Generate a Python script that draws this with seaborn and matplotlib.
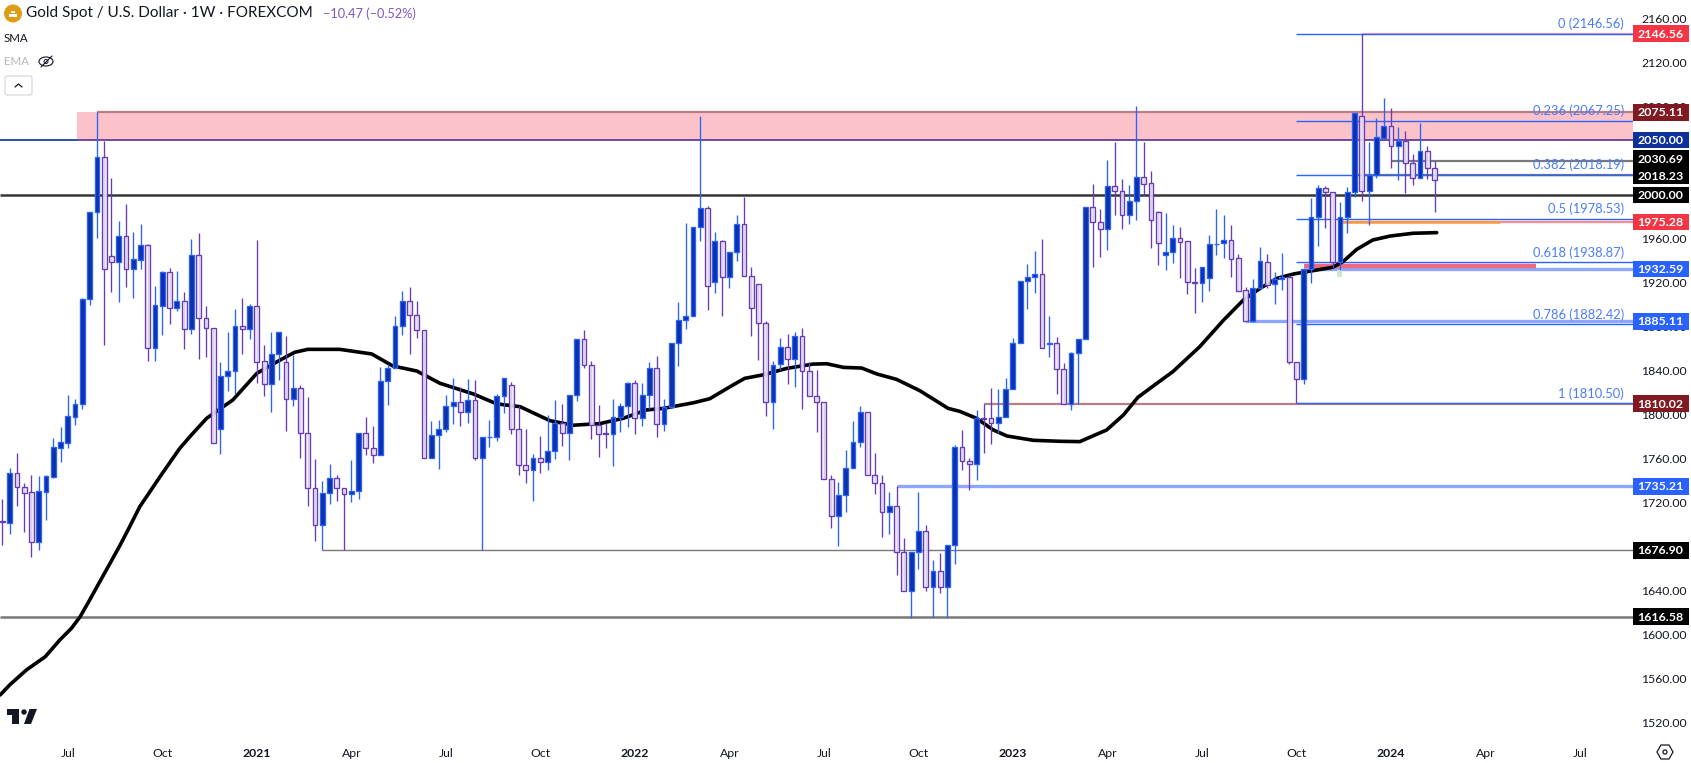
import matplotlib
matplotlib.use('Agg')
import matplotlib.pyplot as plt
from matplotlib.patches import Circle, Ellipse, FancyBboxPatch, Polygon, Rectangle
from matplotlib.transforms import blended_transform_factory
import numpy as np
import pandas as pd
import seaborn as sns

# weekly candles
opens = [1703.4, 1702.0, 1746.9, 1734.8, 1729.6, 1684.8, 1730.2, 1743.9, 1770.2, 1774.8,
         1798.4, 1809.6, 1905.1, 1984.2, 2034.2, 1944.2, 1939.3, 1962.4, 1933.0, 1941.2,
         1954.2, 1861.2, 1899.3, 1929.6, 1897.5, 1903.3, 1878.4, 1945.1, 1888.4, 1879.3,
         1786.9, 1835.1, 1839.6, 1880.6, 1878.4, 1898.7, 1848.7, 1827.8, 1855.1, 1847.8,
         1814.2, 1824.2, 1783.3, 1733.3, 1699.6, 1728.7, 1742.4, 1733.3, 1727.8, 1730.5,
         1783.3, 1769.6, 1763.9, 1830.6, 1842.4, 1880.6, 1903.3, 1890.6, 1876.9, 1760.6,
         1781.5, 1786.9, 1807.8, 1811.5, 1802.4, 1813.3, 1761.2, 1779.8, 1780.2, 1816.9,
         1826.9, 1786.9, 1754.2, 1749.6, 1760.6, 1756.9, 1766.9, 1792.4, 1783.3, 1817.8,
         1868.7, 1845.1, 1791.2, 1783.3, 1782.4, 1797.8, 1807.8, 1828.7, 1796.9, 1817.8,
         1842.4, 1791.5, 1806.9, 1865.0, 1885.9, 1889.6, 1970.5, 1987.8, 1921.1, 1957.8,
         1925.0, 1947.8, 1973.2, 1925.9, 1919.3, 1883.2, 1811.4, 1845.9, 1861.4, 1850.5,
         1871.4, 1839.6, 1816.9, 1811.4, 1741.4, 1707.8, 1726.8, 1751.4, 1775.0, 1802.3,
         1745.0, 1737.8, 1711.4, 1716.8, 1675.0, 1639.6, 1675.0, 1694.1, 1643.8, 1657.8,
         1643.8, 1681.4, 1770.5, 1758.0, 1755.0, 1797.0, 1796.9, 1792.3, 1797.8, 1823.2,
         1865.0, 1921.5, 1925.1, 1927.8, 1864.8, 1865.0, 1841.4, 1809.9, 1856.0, 1869.3,
         1988.7, 1975.1, 1968.7, 2007.8, 2003.3, 1982.1, 1994.2, 2016.0, 2010.5, 1984.2,
         1945.7, 1947.8, 1960.6, 1957.8, 1920.5, 1919.6, 1924.8, 1955.1, 1956.0, 1958.7,
         1942.3, 1913.2, 1885.6, 1915.0, 1939.3, 1918.7, 1923.2, 1925.0, 1847.8, 1832.3,
         1932.3, 1980.2, 2006.0, 2003.0, 1938.7, 1980.2, 2002.3, 2071.4, 2003.8, 2018.4,
         2052.1, 2062.4, 2044.8, 2049.0, 2028.7, 2015.1, 2039.6, 2024.2]
highs = [1723.3, 1751.7, 1765.1, 1737.8, 1745.4, 1744.5, 1745.4, 1778.7, 1788.7, 1818.1,
         1814.5, 1906.0, 1984.2, 2075.1, 2049.3, 2015.4, 1976.3, 1991.8, 1966.3, 1973.6,
         1955.4, 1917.2, 1930.9, 1933.6, 1930.9, 1911.8, 1959.9, 1965.1, 1899.0, 1879.3,
         1848.1, 1875.4, 1896.3, 1906.3, 1900.9, 1959.0, 1863.3, 1875.1, 1875.1, 1871.8,
         1854.5, 1827.2, 1816.3, 1760.0, 1739.9, 1755.4, 1745.4, 1733.3, 1759.0, 1783.3,
         1798.1, 1790.0, 1843.6, 1846.3, 1890.0, 1912.7, 1916.3, 1903.6, 1876.9, 1794.5,
         1795.4, 1818.1, 1833.6, 1825.1, 1832.7, 1831.8, 1779.6, 1795.4, 1819.0, 1833.3,
         1829.6, 1808.4, 1787.2, 1764.2, 1780.9, 1800.0, 1813.6, 1810.0, 1817.8, 1868.7,
         1877.2, 1849.0, 1809.0, 1792.4, 1814.5, 1810.8, 1830.0, 1831.8, 1829.0, 1848.1,
         1853.6, 1814.5, 1865.0, 1902.6, 1974.1, 1970.5, 2071.7, 1989.6, 1965.9, 1959.0,
         1947.8, 1981.7, 1997.8, 1934.1, 1919.3, 1885.0, 1848.7, 1869.9, 1873.5, 1875.0,
         1878.7, 1848.0, 1840.8, 1811.4, 1745.0, 1738.7, 1768.0, 1794.4, 1808.0, 1802.3,
         1765.0, 1745.0, 1729.9, 1735.2, 1688.0, 1675.0, 1729.6, 1699.6, 1668.0, 1674.1,
         1681.4, 1772.6, 1786.3, 1760.5, 1804.4, 1809.9, 1824.1, 1823.2, 1833.2, 1869.6,
         1921.5, 1937.2, 1949.0, 1959.9, 1890.0, 1870.8, 1846.9, 1856.9, 1869.3, 1988.7,
         2009.9, 1986.9, 2031.8, 2048.1, 2014.5, 2009.0, 2080.9, 2048.1, 2021.8, 1985.4,
         1983.6, 1972.7, 1970.9, 1957.8, 1933.6, 1934.2, 1963.5, 1987.2, 1981.7, 1972.6,
         1946.3, 1915.9, 1923.5, 1952.3, 1946.3, 1930.2, 1946.9, 1927.2, 1848.4, 1932.3,
         1997.2, 2009.0, 2008.0, 2003.0, 1993.5, 2006.9, 2074.8, 2146.56, 2048.4, 2069.6,
         2087.8, 2079.0, 2061.8, 2058.1, 2037.2, 2065.4, 2044.5, 2031.2]
lows = [1681.7, 1691.7, 1717.2, 1693.6, 1671.1, 1677.2, 1704.5, 1743.0, 1757.5, 1770.2,
        1790.8, 1805.7, 1900.0, 1960.9, 1863.6, 1912.1, 1902.7, 1916.3, 1906.3, 1932.7,
        1849.0, 1849.0, 1872.7, 1882.7, 1894.5, 1859.9, 1873.6, 1851.2, 1852.7, 1774.2,
        1764.8, 1822.1, 1819.3, 1855.7, 1869.3, 1828.7, 1817.5, 1803.0, 1831.8, 1785.7,
        1808.4, 1761.2, 1717.5, 1685.0, 1676.9, 1719.0, 1722.0, 1676.9, 1721.0, 1723.6,
        1763.9, 1756.6, 1763.9, 1809.0, 1842.4, 1872.7, 1855.7, 1869.9, 1760.6, 1760.6,
        1750.9, 1784.8, 1791.8, 1790.2, 1792.7, 1759.0, 1677.5, 1771.2, 1776.6, 1802.0,
        1782.7, 1745.4, 1738.4, 1721.7, 1746.9, 1750.0, 1760.0, 1771.7, 1759.0, 1812.7,
        1843.0, 1778.1, 1762.1, 1770.2, 1753.9, 1784.5, 1789.3, 1782.7, 1790.2, 1805.7,
        1780.2, 1785.7, 1806.9, 1844.7, 1878.4, 1889.6, 1958.4, 1895.3, 1911.1, 1890.2,
        1915.6, 1939.9, 1925.9, 1872.0, 1849.9, 1799.3, 1787.5, 1840.8, 1828.1, 1825.6,
        1805.6, 1816.9, 1784.7, 1741.4, 1697.5, 1680.8, 1712.0, 1751.4, 1771.1, 1745.0,
        1728.0, 1689.3, 1691.7, 1654.4, 1639.6, 1615.0, 1660.2, 1640.2, 1616.6, 1638.4,
        1616.6, 1664.4, 1750.0, 1731.7, 1741.0, 1765.6, 1773.5, 1783.2, 1797.8, 1823.2,
        1865.0, 1896.3, 1911.2, 1860.6, 1853.0, 1819.0, 1809.9, 1804.7, 1809.9, 1869.3,
        1934.8, 1943.9, 1950.2, 1982.1, 1969.0, 1973.6, 1977.2, 1999.9, 1951.8, 1936.3,
        1931.8, 1938.1, 1924.5, 1910.0, 1892.7, 1902.7, 1912.9, 1945.4, 1942.6, 1925.7,
        1912.9, 1885.6, 1884.4, 1915.0, 1915.3, 1900.8, 1913.5, 1846.3, 1810.5, 1828.0,
        1920.0, 1953.5, 1969.9, 1933.2, 1931.7, 1965.7, 1998.4, 1994.5, 1972.6, 2015.7,
        2052.1, 2024.5, 2013.6, 2002.1, 2009.0, 2015.1, 2014.8, 1984.8]
closes = [1703.0, 1746.9, 1734.8, 1729.3, 1684.8, 1730.5, 1744.2, 1770.5, 1775.1, 1798.7,
          1809.6, 1905.1, 1984.2, 2034.2, 1932.4, 1939.3, 1962.4, 1933.0, 1941.5, 1954.2,
          1861.2, 1899.6, 1929.6, 1897.5, 1903.3, 1878.4, 1945.1, 1888.4, 1879.3, 1774.2,
          1835.1, 1839.6, 1880.6, 1878.4, 1898.7, 1848.4, 1827.8, 1855.1, 1875.1, 1814.2,
          1824.2, 1783.3, 1733.3, 1699.6, 1728.7, 1742.4, 1733.3, 1727.8, 1730.5, 1783.3,
          1769.6, 1763.9, 1830.6, 1842.4, 1880.6, 1903.3, 1890.6, 1876.9, 1760.6, 1781.5,
          1786.9, 1807.8, 1811.5, 1802.4, 1813.3, 1761.2, 1779.6, 1780.2, 1816.9, 1833.3,
          1786.9, 1754.2, 1749.6, 1760.6, 1756.9, 1766.9, 1792.4, 1783.3, 1817.8, 1868.7,
          1845.1, 1791.2, 1783.0, 1783.0, 1797.8, 1807.8, 1828.7, 1796.9, 1817.8, 1842.4,
          1791.5, 1806.9, 1865.0, 1885.9, 1889.6, 1970.5, 1987.8, 1917.5, 1957.8, 1925.0,
          1947.8, 1973.2, 1925.9, 1896.8, 1883.2, 1811.4, 1845.6, 1861.4, 1850.5, 1871.4,
          1839.6, 1816.9, 1811.4, 1741.4, 1707.8, 1726.8, 1751.4, 1775.0, 1802.3, 1745.0,
          1737.8, 1711.4, 1716.8, 1675.0, 1639.6, 1675.0, 1694.1, 1643.8, 1657.8, 1643.8,
          1681.4, 1770.5, 1758.0, 1755.0, 1796.9, 1796.6, 1792.3, 1797.8, 1823.2, 1865.0,
          1921.5, 1925.1, 1927.8, 1860.6, 1865.2, 1841.4, 1809.9, 1856.0, 1869.3, 1988.7,
          1975.1, 1968.7, 2007.8, 2003.3, 1982.1, 1994.2, 2016.0, 2010.2, 1977.5, 1956.6,
          1947.8, 1960.6, 1957.5, 1920.5, 1920.2, 1934.2, 1955.1, 1955.5, 1958.7, 1942.0,
          1912.9, 1885.6, 1915.0, 1939.6, 1918.0, 1923.2, 1925.0, 1847.8, 1832.3, 1932.3,
          1980.2, 2006.0, 2003.0, 1938.7, 1980.2, 2003.0, 2074.8, 2003.8, 2018.4, 2052.3,
          2062.4, 2044.8, 2049.0, 2028.7, 2015.1, 2039.6, 2024.2, 2013.3]

# moving average
sma_bars = [-0.3, 1, 3.3, 5.9, 7.9, 9.5, 10.7, 12, 13.4, 14.8, 16.2, 17.4, 18.9, 22, 24.4, 26,
            28.1, 31.7, 35, 38.2, 40.2, 42, 46.4, 50.8, 53.7, 57, 60.2, 64.8, 68, 71.2, 75.3,
            78.5, 82.2, 85.4, 88.6, 90.9, 95.1, 97.3, 100.5, 102.1, 104.7, 107.9, 111.5, 113.4,
            115.7, 118.2, 120.3, 123, 126.2, 130.1, 131.7, 134, 136.3, 138.2, 141.8, 145.5,
            148.2, 151.9, 154.2, 156.2, 158.8, 161, 164.7, 168, 170.7, 173, 175.3, 177.6, 183,
            184.4, 186.3, 188.5, 190.9, 194, 197.3]
sma_vals = [1545.4, 1554.5, 1568.1, 1580.2, 1595.4, 1606.0, 1616.6, 1631.7, 1648.4, 1665.0,
            1681.7, 1697.0, 1716.6, 1746.9, 1769.6, 1781.8, 1796.9, 1813.6, 1837.8, 1849.9,
            1856.9, 1859.6, 1859.6, 1855.4, 1844.5, 1839.9, 1828.7, 1819.0, 1810.0, 1807.5,
            1794.8, 1790.6, 1792.1, 1796.9, 1804.5, 1805.9, 1811.1, 1814.7, 1827.2, 1833.2,
            1836.5, 1842.3, 1846.2, 1846.5, 1843.2, 1842.6, 1837.2, 1832.3, 1822.0, 1805.9,
            1803.2, 1796.9, 1786.3, 1780.8, 1776.9, 1776.0, 1775.7, 1786.3, 1799.9, 1816.0,
            1828.7, 1839.3, 1862.0, 1886.3, 1904.4, 1915.0, 1924.1, 1928.1, 1934.2, 1939.3,
            1950.5, 1959.0, 1962.6, 1965.1, 1965.7]

# 2040, 2000 and 1680 sit fully behind price tags in the picture
y_ticks = [2160, 2120, 2080, 1960, 1920, 1880, 1840, 1800, 1760, 1720, 1640, 1600, 1560, 1520]
x_tick_bars = [9, 22, 35, 48, 61, 74, 87, 100, 113, 126, 139, 152, 165, 178, 191, 204, 217]
x_tick_names = ['Jul', 'Oct', '2021', 'Apr', 'Jul', 'Oct', '2022', 'Apr', 'Jul', 'Oct', '2023', 'Apr', 'Jul', 'Oct', '2024', 'Apr', 'Jul']

fib_levels = [2146.56, 2067.25, 2018.19, 1978.53, 1938.87, 1882.42, 1810.50]
fib_names = ['0', '0.236', '0.382', '0.5', '0.618', '0.786', '1']

# price tag: text, centre of box, colour
tag_names = ['2146.56', '2075.11', '2050.00', '2030.69', '2018.23', '2000.00', '1975.28', '1932.59',
             '1885.11', '1810.02', '1735.21', '1676.90', '1616.58']
tag_prices = [2146.56, 2075.11, 2050.0, 2032.9, 2017.5, 2000.0, 1975.28, 1932.59,
              1885.11, 1810.02, 1735.21, 1676.9, 1616.58]
tag_colors = ['#f23645', '#801922', '#0c3299', '#000000', '#000000', '#000000', '#f23645', '#2962ff',
              '#2962ff', '#801922', '#2962ff', '#000000', '#000000']

BLUE = '#2962ff'
BLUE_FILL = '#0d31a6'
PURPLE = '#673ab7'
PURPLE_FILL = '#ede7f6'
MUTED_RED = '#b77f85'
LIGHT_BLUE = '#8ea6fb'
GREY = '#787878'
FONT = 'Lato'

sns.set_theme(style='white')
plt.rcParams['font.family'] = [FONT, 'DejaVu Sans']

W, H = 1691, 763
PANE_W, PANE_H = 1633, 733
fig = plt.figure(figsize=(W / 100, H / 100), dpi=100, facecolor='white')
ax = fig.add_axes([0, 1 - PANE_H / H, PANE_W / W, PANE_H / H])
x_left, x_right = -0.33, 224.3
ax.set_xlim(x_left, x_right)
ax.set_ylim(1510.8, 2177.2)

# levels
ax.fill_between([10.3, x_right], 2050, 2075.11, color='#fcc2c9', lw=0, zorder=1)
ax.hlines(2075.11, 13, x_right, color=MUTED_RED, lw=1.6, zorder=2)
ax.hlines(2050, x_left, 10.3, color='#0c3299', lw=1.2, zorder=2)
ax.hlines(2050, 10.3, x_right, color='#55309a', lw=1.2, zorder=2)
ax.hlines(2000, x_left, x_right, color='#363636', lw=1.8, zorder=2)
ax.hlines(2146.56, 187, x_right, color='#f7a0a8', lw=1.6, zorder=2)
ax.hlines(2030.69, 191, x_right, color=GREY, lw=1.6, zorder=2)
ax.hlines(2018.23, 186, x_right, color=GREY, lw=1.6, zorder=2)
ax.hlines(1975.28, 184, x_right, color='#f78a92', lw=1.6, zorder=2)
ax.hlines(1975.6, 184, 206, color='#ff9a3c', lw=1.8, zorder=2.1)
ax.hlines(1932.59, 179, x_right, color=LIGHT_BLUE, lw=2.4, zorder=2)
ax.hlines(1935.2, 179, 211, color='#ee6a7c', lw=3.2, zorder=2.1)
ax.hlines(1885.11, 171, x_right, color=LIGHT_BLUE, lw=2.4, zorder=2)
ax.hlines(1810.02, 135, x_right, color=MUTED_RED, lw=1.6, zorder=2)
ax.hlines(1735.21, 123, x_right, color=LIGHT_BLUE, lw=2.4, zorder=2)
ax.hlines(1676.9, 44, x_right, color=GREY, lw=1.0, zorder=2)
ax.hlines(1616.58, x_left, x_right, color=GREY, lw=1.8, zorder=2)
ax.fill_between([183.6, 184.3], 1925.7, 1931.7, color='#cfe8d5', lw=0, zorder=2)
ax.hlines(fib_levels, 178, x_right, color=BLUE, lw=1.0, zorder=2.5)
for level, name in zip(fib_levels, fib_names):
    ax.annotate(f'{name} ({level:.2f})', (x_right, level), xytext=(-6.5, 2.5), textcoords='offset points',
                ha='right', va='bottom', fontsize=9.3, color='#4a7bff', zorder=6)

# moving average goes under the candles
sma_df = pd.DataFrame({'bar': sma_bars, 'sma': sma_vals})
sns.lineplot(data=sma_df, x='bar', y='sma', color='black', lw=2.6, ax=ax, zorder=3, legend=False, errorbar=None)

# candles
df = pd.DataFrame({'open': opens, 'high': highs, 'low': lows, 'close': closes})
df['bar'] = np.arange(len(df))
up = df[df['close'] >= df['open']]
down = df[df['close'] < df['open']]
ax.vlines(up['bar'], up['low'], up['high'], color=BLUE, lw=0.95, zorder=4)
ax.vlines(down['bar'], down['low'], down['high'], color=PURPLE, lw=0.95, zorder=4)
ax.bar(up['bar'], up['close'] - up['open'], bottom=up['open'], width=0.66, facecolor=BLUE_FILL,
       edgecolor=BLUE, lw=0.95, zorder=5)
ax.bar(down['bar'], down['close'] - down['open'], bottom=down['open'], width=0.66,
       facecolor=matplotlib.colors.to_rgba(PURPLE_FILL, 0.88), edgecolor=PURPLE, lw=0.95, zorder=5)

# axes
sns.despine(ax=ax, left=True, bottom=True, right=True, top=True)
ax.set_xlabel('')
ax.set_ylabel('')
ax.yaxis.tick_right()
ax.set_yticks(y_ticks)
ax.set_yticklabels([f'{t:.2f}' for t in y_ticks], fontsize=8.8, color='#131722')
ax.set_xticks(x_tick_bars)
ax.set_xticklabels(x_tick_names, fontsize=8.8, color='#131722')
for lab in ax.get_xticklabels():
    if lab.get_text().startswith('20'):
        lab.set_fontweight('bold')
ax.tick_params(axis='y', length=0, pad=5.8)
ax.tick_params(axis='x', length=0, pad=11)
ax.patch.set_alpha(0)

# price tags right of the pane
trans = blended_transform_factory(ax.transAxes, ax.transData)
box_w = 56 / PANE_W
box_h = 16.8 / 1.1
for name, price, col in zip(tag_names, tag_prices, tag_colors):
    ax.add_patch(Rectangle((1.0, price - box_h / 2), box_w, box_h, transform=trans, facecolor=col,
                           edgecolor='none', clip_on=False, zorder=8))
    ax.text(1.0 + box_w * 0.49, price - 0.4, name, transform=trans, ha='center', va='center', fontsize=8.9,
            fontweight='bold', color='white', clip_on=False, zorder=9)

# header and logos, in pixel coordinates of the whole image
top = fig.add_axes([0, 0, 1, 1], zorder=10)
top.set_xlim(0, W)
top.set_ylim(H, 0)
top.axis('off')
top.patch.set_alpha(0)
top.text(26, 13.5, 'Gold Spot / U.S. Dollar · 1W · FOREXCOM', fontsize=11.0, color='#131722', va='center')
top.text(323, 13.5, '−10.47 (−0.52%)', fontsize=9.2, color='#7e57c2', va='center')
top.text(4, 38, 'SMA', fontsize=8.3, color='#131722', va='center')
top.text(4, 61.5, 'EMA', fontsize=8.3, color='#b2b5be', va='center')
top.add_patch(Circle((13, 13.5), 9, facecolor='#e09c12', edgecolor='none'))
top.add_patch(Rectangle((9, 14), 8, 2.5, facecolor='white', edgecolor='none'))
top.add_patch(Rectangle((11, 10.5), 4, 2.5, facecolor='white', edgecolor='none'))
top.add_patch(Ellipse((46, 61.5), 14, 9, facecolor='none', edgecolor='#131722', lw=0.8))
top.add_patch(Circle((46, 61.5), 2, facecolor='none', edgecolor='#131722', lw=0.7))
top.plot([41, 52], [67, 56], color='#131722', lw=0.8)
top.add_patch(FancyBboxPatch((5, 76), 27, 19, boxstyle='round,pad=0,rounding_size=2', facecolor='white',
                             edgecolor='#d1d4dc', lw=0.8))
top.plot([15, 18.5, 22], [87, 84, 87], color='#131722', lw=0.9)
top.add_patch(Polygon([(7, 709), (19, 709), (19, 724), (12, 724), (12, 715), (7, 715)], facecolor='#131722', edgecolor='none'))
top.add_patch(Circle((24, 712), 2.7, facecolor='#131722', edgecolor='none'))
top.add_patch(Polygon([(29.5, 709), (37, 709), (31, 724), (24, 724)], facecolor='#131722', edgecolor='none'))
# settings hexagon bottom right
top.add_patch(Polygon([(1657, 752), (1661, 745), (1669, 745), (1673, 752), (1669, 759), (1661, 759)],
                      facecolor='none', edgecolor='#131722', lw=0.9))
top.add_patch(Circle((1665, 752), 2, facecolor='none', edgecolor='#131722', lw=0.9))

fig.savefig('out.png', dpi=100, facecolor='white')
